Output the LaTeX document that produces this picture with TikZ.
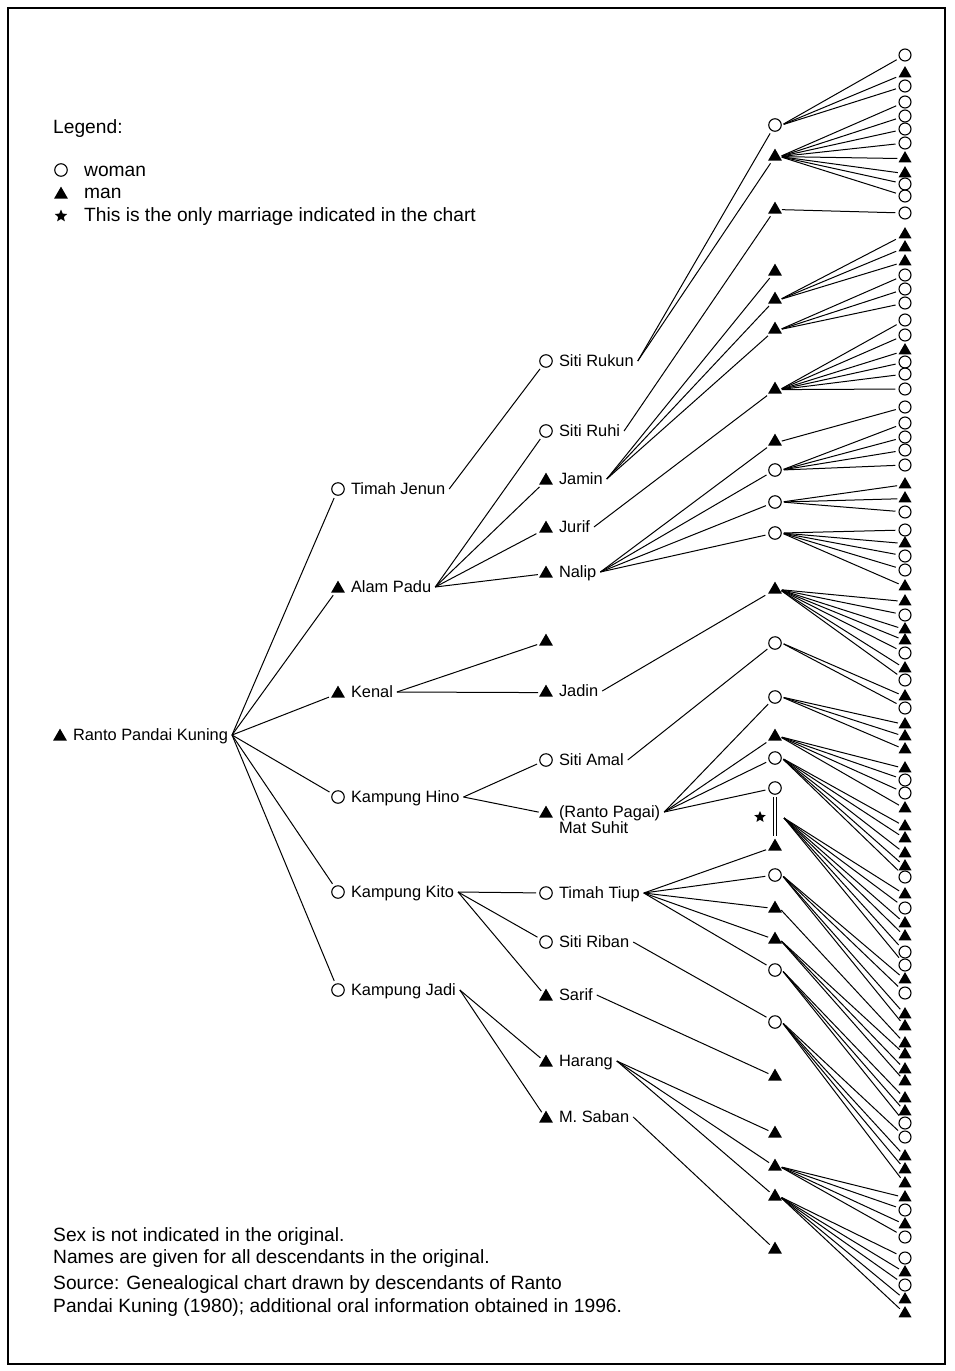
\documentclass[tikz,border=0pt]{standalone}
\usepackage{fontspec}
\setmainfont{Liberation Sans}
\usetikzlibrary{shapes.geometric}
\newcommand\pp[5]{\node[#1] (#2) at (#3,#4) {}; \node[lab] (#2l) at (#3+9,#4) {#5};}
\begin{document}
\begin{tikzpicture}[x=1pt,y=-1pt,
 wom/.style={circle,draw=black,line width=1.1pt,minimum size=12.5pt,inner sep=0pt},
 man/.style={regular polygon,regular polygon sides=3,fill=black,draw=none,minimum size=16pt,inner sep=0pt,yshift=-1.6pt},
 rw/.style={wom,minimum size=12pt},
 rm/.style={man,minimum size=15pt},
 lab/.style={anchor=west,inner sep=0pt,outer xsep=4pt,font=\fontsize{16.4}{20}\selectfont,text height=11.8pt,text depth=0pt},
 big/.style={anchor=west,inner sep=0pt,font=\fontsize{19.2}{23}\selectfont,text height=13.8pt,text depth=0pt},
 conn/.style={line width=1pt,draw=black,shorten >=3pt},
 starmark/.style={star,star points=5,star point ratio=2.2,fill=black,draw=none,minimum size=13pt,inner sep=0pt}]
\useasboundingbox (0,0) rectangle (954,1371);
\draw[line width=1.1pt] (8,8) rectangle (945,1364);
% legend
\node[big] (lg) at (53,127) {Legend:};
\node[wom] (lgw) at (61,170) {};
\node[big] (lgwt) at (84,170) {woman};
\node[man] (lgm) at (61,193) {};
\node[big] (lgmt) at (84,192) {man};
\node[starmark] (lgs) at (61,216) {};
\node[big] (lgst) at (84,215) {This is the only marriage indicated in the chart};
% footer
\node[big] (f1) at (53,1235) {Sex is not indicated in the original.};
\node[big] (f2) at (53,1257) {Names are given for all descendants in the original.};
\node[big] (f3) at (53,1283) {Source: Genealogical chart drawn by descendants of Ranto};
\node[big] (f4) at (53,1306) {Pandai Kuning (1980); additional oral information obtained in 1996.};
% generation 1
\pp{man}{root}{60}{735}{Ranto Pandai Kuning}
% generation 2
\pp{wom}{tj}{338}{489}{Timah Jenun}
\pp{man}{ap}{338}{587}{Alam Padu}
\pp{man}{ke}{338}{692}{Kenal}
\pp{wom}{kh}{338}{797}{Kampung Hino}
\pp{wom}{kk}{338}{892}{Kampung Kito}
\pp{wom}{kj}{338}{990}{Kampung Jadi}
% generation 3
\pp{wom}{sr}{546}{361}{Siti Rukun}
\pp{wom}{sh}{546}{431}{Siti Ruhi}
\pp{man}{ja}{546}{479}{Jamin}
\pp{man}{ju}{546}{527}{Jurif}
\pp{man}{na}{546}{572}{Nalip}
\node[man] (un) at (546,640) {};
\pp{man}{jd}{546}{691}{Jadin}
\pp{wom}{sa}{546}{760}{Siti Amal}
\pp{man}{ms}{546}{812}{(Ranto Pagai)}
\node[lab] (ms2) at (555,828) {Mat Suhit};
\pp{wom}{tt}{546}{893}{Timah Tiup}
\pp{wom}{sb}{546}{942}{Siti Riban}
\pp{man}{sf}{546}{995}{Sarif}
\pp{man}{hr}{546}{1061}{Harang}
\pp{man}{mb}{546}{1117}{M. Saban}
% generation 4
\foreach \n/\y/\t in {a1/125/wom,a2/155/man,a3/208/man,a4/270/man,a5/298/man,a6/328/man,a7/388/man,a8/440/man,a9/470/wom,a10/502/wom,a11/533/wom,a12/588/man,a13/643/wom,a14/697/wom,a15/735/man,a16/758/wom,a17/788/wom,a18/845/man,a19/875/wom,a20/907/man,a21/938/man,a22/970/wom,a23/1022/wom,a24/1075/man,a25/1132/man,a26/1165/man,a27/1195/man,a28/1248/man}
  \node[\t] (\n) at (775,\y) {};
% generation 5
\foreach \i/\y/\t in {1/55/rw,2/72/rm,3/86/rw,4/102/rw,5/116/rw,6/129/rw,7/143/rw,8/157/rm,9/172/rm,10/184/rw,11/196/rw,12/213/rw,13/233/rm,14/246/rm,15/260/rm,16/275/rw,17/289/rw,18/303/rw,19/320/rw,20/335/rw,21/349/rm,22/362/rw,23/374/rw,24/389/rw,25/407/rw,26/423/rw,27/437/rw,28/450/rw,29/465/rw,30/483/rm,31/497/rm,32/512/rw,33/530/rw,34/542/rm,35/556/rw,36/570/rw,37/585/rm,38/600/rm,39/615/rw,40/628/rm,41/639/rm,42/653/rw,43/667/rm,44/680/rw,45/695/rm,46/708/rw,47/723/rm,48/735/rm,49/748/rm,50/767/rm,51/780/rw,52/793/rw,53/807/rm,54/825/rm,55/837/rm,56/852/rm,57/865/rm,58/877/rw,59/893/rm,60/908/rw,61/922/rm,62/935/rm,63/952/rw,64/965/rw,65/978/rm,66/993/rw,67/1013/rm,68/1025/rm,69/1042/rm,70/1053/rm,71/1068/rm,72/1080/rm,73/1097/rm,74/1110/rm,75/1123/rw,76/1137/rw,77/1155/rm,78/1168/rm,79/1182/rm,80/1196/rm,81/1210/rw,82/1223/rm,83/1237/rw,84/1258/rw,85/1271/rm,86/1285/rw,87/1298/rm,88/1312/rm}
  \node[\t] (r\i) at (905,\y) {};
% marriage
\draw[line width=1pt,double distance=2.6pt,shorten <=2pt,shorten >=2pt] (a17.south) -- (a18.north);
\coordinate (cp) at (784,818);
\node[starmark,minimum size=12pt] (st) at (760,817) {};
% connectors gen1 -> gen2
\foreach \c in {tj,ap,ke,kh,kk,kj} \draw[conn] (rootl.east) -- (\c);
% gen2 -> gen3
\draw[conn] (tjl.east) -- (sr);
\foreach \c in {sh,ja,ju,na} \draw[conn] (apl.east) -- (\c);
\foreach \c in {un,jd} \draw[conn] (kel.east) -- (\c);
\foreach \c in {sa,ms} \draw[conn] (khl.east) -- (\c);
\foreach \c in {tt,sb,sf} \draw[conn] (kkl.east) -- (\c);
\foreach \c in {hr,mb} \draw[conn] (kjl.east) -- (\c);
% gen3 -> gen4
\foreach \s/\l in {srl/{a1,a2},shl/{a3},jal/{a4,a5,a6},jul/{a7},nal/{a8,a9,a10,a11},jdl/{a12},sal/{a13},msl/{a14,a15,a16,a17},ttl/{a18,a19,a20,a21,a22},sbl/{a23},sfl/{a24},hrl/{a25,a26,a27},mbl/{a28}}
  {\foreach \t in \l \draw[conn] (\s.east) -- (\t);}
% gen4 -> gen5
\foreach \s/\l in {a1/{1,2,3},a2/{4,5,6,7,8,9,10,11},a3/{12},a5/{13,14,15},a6/{16,17,18},a7/{19,20,21,22,23,24},a8/{25},a9/{26,27,28,29},a10/{30,31,32},a11/{33,34,35,36,37},a12/{38,39,40,41,42,43,44},a13/{45,46},a14/{47,48,49},a15/{50,51,52,53},a16/{54,55,56,57,58},a19/{65,66,67,68},a20/{69},a21/{70,71,72},a22/{73,74,75},a23/{76,77,78,79},a26/{80,81,82,83},a27/{84,85,86,87,88}}
  {\foreach \t in \l \draw[conn,shorten <=2pt] (\s.east) -- (r\t);}
\foreach \t in {59,60,61,62,63,64} \draw[conn] (cp) -- (r\t);
\end{tikzpicture}
\end{document}
